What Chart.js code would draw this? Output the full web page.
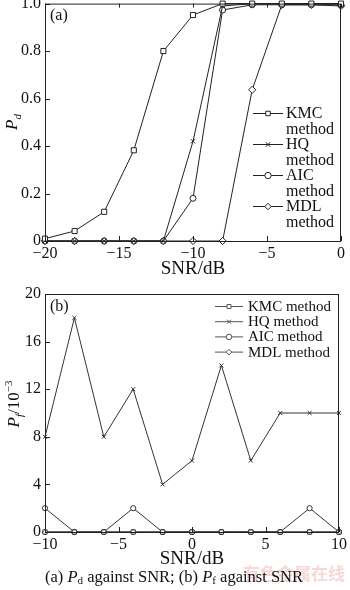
<!DOCTYPE html>
<html><head><meta charset="utf-8">
<script src="https://cdn.jsdelivr.net/npm/chart.js@4.4.1/dist/chart.umd.min.js"></script>
<style>
html,body{margin:0;padding:0;background:#fff;}
body{width:350px;height:590px;position:relative;overflow:hidden;font-family:'Liberation Serif',serif;}
#ca{position:absolute;left:0;top:-10px;}
#cb{position:absolute;left:0;top:280px;}
#wm{position:absolute;left:243px;top:562px;font-family:'Noto Sans CJK SC',sans-serif;font-weight:bold;font-size:17px;line-height:22px;color:rgba(232,140,140,0.35);letter-spacing:0px;z-index:0;}
#cap{position:absolute;left:0;top:567px;width:348px;text-align:center;font-size:16.5px;line-height:19px;color:#111;z-index:1;}
#cap sub{font-size:11px;vertical-align:-2px;line-height:0;}
</style>
</head><body>
<canvas id="ca" width="350" height="290"></canvas>
<canvas id="cb" width="350" height="290"></canvas>
<div id="wm">有色金属在线</div>
<div id="cap">(a) <i>P</i><sub>d</sub> against SNR; (b) <i>P</i><sub>f</sub> against SNR</div>
<script>
// ---- data (a): detection probability vs SNR ----
const snrA = [-20, -18, -16, -14, -12, -10, -8, -6, -4, -2, 0];
const kmcA = [0.01, 0.042, 0.123, 0.382, 0.80, 0.952, 1.0, 1.0, 1.0, 1.0, 1.0];
const hqA  = [0, 0, 0, 0, 0, 0.42, 0.99, 1.0, 1.0, 1.0, 1.0];
const aicA = [0, 0, 0, 0, 0, 0.18, 0.973, 0.995, 0.995, 0.995, 0.995];
const mdlA = [0, 0, 0, 0, 0, 0, 0, 0.637, 0.995, 0.995, 0.99];
const yTicksA = [0, 0.2, 0.4, 0.6, 0.8, 1.0];
// ---- data (b): false alarm probability (x10^-3) vs SNR ----
const snrB = [-10, -8, -6, -4, -2, 0, 2, 4, 6, 8, 10];
const kmcB = [0, 0, 0, 0, 0, 0, 0, 0, 0, 0, 0];
const hqB  = [8, 18, 8, 12, 4, 6, 14, 6, 10, 10, 10];
const aicB = [2, 0, 0, 2, 0, 0, 0, 0, 0, 2, 0];
const mdlB = [0, 0, 0, 0, 0, 0, 0, 0, 0, 0, 0];
const yTicksB = [0, 4, 8, 12, 16, 20];
const legendA = [['KMC','method'],['HQ','method'],['AIC','method'],['MDL','method']];
const legendB = ['KMC method','HQ method','AIC method','MDL method'];

const FONT = "'Liberation Serif', serif";
Chart.defaults.font.family = FONT;
Chart.defaults.color = '#111';

const styles = ['rect','crossRot','circle','rectRot'];
function pts(xs, ys){ return xs.map((x,i)=>({x:x,y:ys[i]})); }
function mkSets(xs, series, radii, lineColor){
  return series.map((s,i)=>({
    data: pts(xs, s), borderColor: lineColor, backgroundColor:'#fff',
    borderWidth: 1, pointStyle: styles[i], pointRadius: radii[i],
    pointBorderColor: lineColor, pointBackgroundColor:'#fff', pointBorderWidth:1,
    tension:0, clip:false
  }));
}
function minus(v){ return v < 0 ? '\u2212' + Math.abs(v) : String(v); }

function drawRich(ctx, segs, cx, cy, rot){
  ctx.save();
  ctx.translate(cx, cy);
  ctx.rotate(rot);
  let total = 0;
  segs.forEach(s=>{ ctx.font = s.font; s.w = ctx.measureText(s.t).width; total += s.w; });
  let x = -total/2;
  ctx.textBaseline = 'alphabetic';
  ctx.textAlign = 'left';
  ctx.fillStyle = '#111';
  segs.forEach(s=>{ ctx.font = s.font; ctx.fillText(s.t, x, s.dy); x += s.w; });
  ctx.restore();
}

function framePlugin(cfg){
  return {
    id: 'frame',
    afterDraw(chart){
      const ctx = chart.ctx, a = chart.chartArea;
      const xs = chart.scales.x, ys = chart.scales.y;
      ctx.save();
      ctx.strokeStyle = '#222';
      ctx.lineWidth = 1;
      ctx.strokeRect(a.left + 0.5, a.top + 0.5, a.right - a.left - 1, a.bottom - a.top);
      ctx.beginPath();
      xs.ticks.forEach(t=>{
        const px = Math.round(xs.getPixelForValue(t.value)) + 0.5;
        ctx.moveTo(px, a.bottom); ctx.lineTo(px, a.bottom - 5);
        if (cfg.topTicks) { ctx.moveTo(px, a.top); ctx.lineTo(px, a.top + 4); }
      });
      ys.ticks.forEach(t=>{
        const py = Math.round(ys.getPixelForValue(t.value)) + 0.5;
        ctx.moveTo(a.left, py); ctx.lineTo(a.left + 5, py);
      });
      ctx.stroke();
      // panel label
      ctx.fillStyle = '#111';
      ctx.font = '16px ' + FONT;
      ctx.textAlign = 'left'; ctx.textBaseline = 'middle';
      ctx.fillText(cfg.panel, a.left + 5, a.top + cfg.panelDy);
      // y title
      drawRich(ctx, cfg.ytitle, cfg.ytx, cfg.yty, -Math.PI/2);
      // legend
      const L = cfg.legend;
      chart.data.datasets.forEach((ds, i)=>{
        const y = L.y0 + i * L.step;
        ctx.strokeStyle = L.lineColor; ctx.lineWidth = 1;
        ctx.beginPath(); ctx.moveTo(L.x0, y + 0.5); ctx.lineTo(L.x1, y + 0.5); ctx.stroke();
        ctx.fillStyle = '#fff'; ctx.strokeStyle = L.lineColor;
        Chart.helpers.drawPoint(ctx, {pointStyle: ds.pointStyle, radius: L.r, rotation: 0, borderWidth: 1}, (L.x0 + L.x1)/2, y + 0.5);
        ctx.fillStyle = '#111';
        ctx.font = L.font;
        ctx.textAlign = 'left'; ctx.textBaseline = 'middle';
        const lines = Array.isArray(L.labels[i]) ? L.labels[i] : [L.labels[i]];
        lines.forEach((ln, k)=> ctx.fillText(ln, L.tx, y + k * L.lh + 1));
      });
      ctx.restore();
    }
  };
}

function axisCfg(min, max, tickVals, yWidth, xHeight, yFmt){
  return {
    x: { type:'linear', min:min[0], max:max[0],
         afterBuildTicks(s){ s.ticks = tickVals[0].map(v=>({value:v})); },
         grid:{display:false, drawTicks:false}, border:{display:false},
         ticks:{ padding:3, font:{size:16}, color:'#111', callback:(v)=>minus(v), maxRotation:0, autoSkip:false },
         title:{ display:true, text:'SNR/dB', font:{size:19}, color:'#111', padding:{top:0,bottom:0} },
         afterFit(s){ s.height = xHeight; } },
    y: { type:'linear', min:min[1], max:max[1],
         afterBuildTicks(s){ s.ticks = tickVals[1].map(v=>({value:v})); },
         grid:{display:false, drawTicks:false}, border:{display:false},
         ticks:{ padding:4, font:{size:16}, color:'#111', callback:yFmt, autoSkip:false },
         afterFit(s){ s.width = yWidth; } }
  };
}

const PF = 'italic 17px ' + FONT, SF = 'italic 11px ' + FONT, RF = '17px ' + FONT, SUP = '11px ' + FONT;

// top chart canvas is shifted up 10px (its own coordinates = page y + 10)
new Chart(document.getElementById('ca'), {
  type:'line',
  data:{ datasets: mkSets(snrA, [kmcA, hqA, aicA, mdlA], [3.6, 3, 3, 3.6], '#222') },
  options:{
    responsive:false, animation:false, devicePixelRatio:1,
    layout:{ padding:{ top:13, right:9, left:0, bottom:0 } },
    plugins:{ legend:{display:false}, tooltip:{enabled:false} },
    scales: axisCfg([-20,0],[0,1],[[-20,-15,-10,-5,0], yTicksA],45,39,
      (v)=> v === 0 ? '0' : v.toFixed(1))
  },
  plugins:[framePlugin({
    topTicks:true, panel:'(a)', panelDy:12,
    ytitle:[{t:'P',font:PF,dy:0},{t:'d',font:SF,dy:4}], ytx:17, yty:132,
    legend:{ x0:253, x1:283, tx:286, y0:123, step:31, lh:16, r:3.2, font:'16px ' + FONT, lineColor:'#222', labels:legendA }
  })]
});

new Chart(document.getElementById('cb'), {
  type:'line',
  data:{ datasets: mkSets(snrB, [kmcB, hqB, aicB, mdlB], [3, 2.8, 2.6, 3], '#333') },
  options:{
    responsive:false, animation:false, devicePixelRatio:1,
    layout:{ padding:{ top:14, right:9, left:0, bottom:0 } },
    plugins:{ legend:{display:false}, tooltip:{enabled:false} },
    scales: axisCfg([-10,0],[10,20],[[-10,-5,0,5,10], yTicksB],45,38,(v)=>String(v))
  },
  plugins:[framePlugin({
    topTicks:false, panel:'(b)', panelDy:13,
    ytitle:[{t:'P',font:PF,dy:0},{t:'f',font:SF,dy:4},{t:'/10',font:RF,dy:0},{t:'\u22123',font:SUP,dy:-7}], ytx:19, yty:124,
    legend:{ x0:215, x1:243, tx:248, y0:26, step:15.2, lh:0, r:2.8, font:'15px ' + FONT, lineColor:'#555', labels:legendB }
  })]
});
</script>
</body></html>
